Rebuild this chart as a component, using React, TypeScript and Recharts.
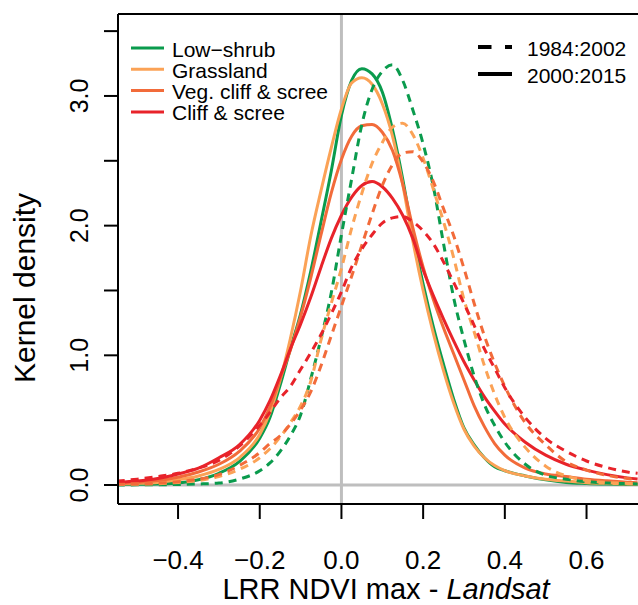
import React from "react";
import { LineChart, Line, XAxis, YAxis, ReferenceLine } from "recharts";

const xs = [-0.55, -0.5, -0.45, -0.4, -0.35, -0.3, -0.25, -0.2, -0.175, -0.15, -0.125, -0.1, -0.075, -0.05, -0.025, 0, 0.025, 0.05, 0.075, 0.1, 0.125, 0.15, 0.175, 0.2, 0.225, 0.25, 0.275, 0.3, 0.325, 0.35, 0.375, 0.4, 0.45, 0.5, 0.55, 0.6, 0.65, 0.7, 0.725];

// 2000:2015 (solid)
const lowShrubLate = [0.003, 0.005, 0.008, 0.015, 0.04, 0.09, 0.18, 0.36, 0.52, 0.77, 1.05, 1.32, 1.65, 2.03, 2.42, 2.85, 3.12, 3.21, 3.17, 3.03, 2.74, 2.36, 1.92, 1.55, 1.22, 0.93, 0.66, 0.44, 0.31, 0.21, 0.14, 0.11, 0.07, 0.04, 0.02, 0.012, 0.007, 0.004, 0.003];
const grassLate = [0.008, 0.012, 0.02, 0.04, 0.07, 0.12, 0.21, 0.39, 0.56, 0.81, 1.13, 1.5, 1.92, 2.27, 2.6, 2.9, 3.1, 3.14, 3.09, 2.94, 2.69, 2.32, 1.88, 1.5, 1.17, 0.88, 0.63, 0.43, 0.3, 0.21, 0.15, 0.11, 0.07, 0.045, 0.03, 0.018, 0.012, 0.008, 0.006];
const vegLate = [0.012, 0.02, 0.035, 0.06, 0.1, 0.16, 0.26, 0.44, 0.6, 0.82, 1.04, 1.3, 1.6, 1.93, 2.25, 2.51, 2.69, 2.77, 2.78, 2.72, 2.58, 2.32, 1.98, 1.68, 1.43, 1.21, 1.01, 0.81, 0.61, 0.45, 0.32, 0.23, 0.13, 0.085, 0.065, 0.045, 0.032, 0.022, 0.018];
const cliffLate = [0.02, 0.03, 0.05, 0.085, 0.13, 0.21, 0.31, 0.5, 0.65, 0.84, 1.05, 1.24, 1.45, 1.68, 1.9, 2.08, 2.22, 2.31, 2.34, 2.3, 2.21, 2.08, 1.9, 1.66, 1.46, 1.28, 1.11, 0.95, 0.81, 0.68, 0.57, 0.47, 0.33, 0.23, 0.16, 0.115, 0.08, 0.055, 0.047];

// 1984:2002 (dashed)
const lowShrubEarly = [0.0, 0.001, 0.002, 0.004, 0.008, 0.015, 0.045, 0.11, 0.17, 0.26, 0.38, 0.54, 0.82, 1.13, 1.48, 1.93, 2.36, 2.78, 3.05, 3.19, 3.24, 3.12, 2.89, 2.63, 2.3, 1.86, 1.44, 1.12, 0.84, 0.62, 0.46, 0.33, 0.16, 0.075, 0.045, 0.025, 0.015, 0.01, 0.008];
const grassEarly = [0.003, 0.006, 0.01, 0.02, 0.035, 0.065, 0.12, 0.21, 0.28, 0.37, 0.48, 0.61, 0.8, 1.12, 1.4, 1.67, 1.98, 2.25, 2.48, 2.64, 2.76, 2.79, 2.7, 2.52, 2.28, 2.03, 1.75, 1.43, 1.18, 0.92, 0.7, 0.52, 0.29, 0.145, 0.07, 0.035, 0.02, 0.012, 0.01];
const vegEarly = [0.005, 0.008, 0.014, 0.025, 0.045, 0.08, 0.15, 0.25, 0.32, 0.38, 0.47, 0.58, 0.72, 0.92, 1.15, 1.38, 1.61, 1.85, 2.09, 2.31, 2.47, 2.56, 2.57, 2.49, 2.34, 2.13, 1.92, 1.67, 1.4, 1.15, 0.94, 0.76, 0.48, 0.31, 0.18, 0.115, 0.075, 0.05, 0.04];
const cliffEarly = [0.03, 0.045, 0.065, 0.09, 0.13, 0.19, 0.3, 0.46, 0.56, 0.67, 0.76, 0.89, 1.02, 1.16, 1.32, 1.49, 1.68, 1.82, 1.93, 2.02, 2.06, 2.07, 2.03, 1.96, 1.86, 1.72, 1.56, 1.4, 1.23, 1.05, 0.9, 0.75, 0.52, 0.36, 0.26, 0.185, 0.135, 0.1, 0.09];

const xTicks = [-0.4, -0.2, 0, 0.2, 0.4, 0.6];
const yTicks = [0, 0.5, 1, 1.5, 2, 2.5, 3, 3.5];
const yLabelTicks = [0, 1, 2, 3];

const categories = ["Low\u2212shrub", "Grassland", "Veg. cliff & scree", "Cliff & scree"];
const colors = ["#0A9B4D", "#FBA256", "#F26B3A", "#E8232A"];
const periods = ["1984:2002", "2000:2015"];

const X_DOMAIN: [number, number] = [-0.547, 0.726];
const Y_DOMAIN: [number, number] = [-0.1465, 3.632];

const rows = xs.map((x, i) => ({
  x,
  ls15: lowShrubLate[i],
  gr15: grassLate[i],
  vg15: vegLate[i],
  cl15: cliffLate[i],
  ls02: lowShrubEarly[i],
  gr02: grassEarly[i],
  vg02: vegEarly[i],
  cl02: cliffEarly[i],
}));

const FONT = "'Liberation Sans', Arial, Helvetica, sans-serif";

const fmt = (v: number) => {
  const s = Math.abs(v).toFixed(1);
  return v < 0 ? "\u2212" + s : s;
};

const XTick = (props: any) => {
  const { x, payload } = props;
  return (
    <text x={x} y={569} textAnchor="middle" fontFamily={FONT} fontSize={26} fill="#000">
      {fmt(payload.value)}
    </text>
  );
};

const YTick = (props: any) => {
  const { x, y, payload } = props;
  if (!yLabelTicks.includes(payload.value)) return null;
  const bx = x - 14;
  return (
    <text
      x={bx}
      y={y}
      transform={`rotate(-90, ${bx}, ${y})`}
      textAnchor="middle"
      fontFamily={FONT}
      fontSize={25}
      fill="#000"
    >
      {fmt(payload.value)}
    </text>
  );
};

const lateKeys = ["ls15", "gr15", "vg15", "cl15"];
const earlyKeys = ["ls02", "gr02", "vg02", "cl02"];

export default function App() {
  return (
    <div style={{ position: "absolute", left: 0, top: 0, width: 638, height: 605, background: "#fff", overflow: "hidden" }}>
      <LineChart width={638} height={605} data={rows} margin={{ top: 14, right: 0, bottom: 0, left: 0 }}>
        <XAxis
          type="number"
          dataKey="x"
          domain={X_DOMAIN}
          allowDataOverflow
          ticks={xTicks}
          interval={0}
          height={101}
          tickSize={15}
          tickLine={{ stroke: "#000", strokeWidth: 2 }}
          axisLine={{ stroke: "#000", strokeWidth: 2 }}
          tick={<XTick />}
        />
        <YAxis
          type="number"
          domain={Y_DOMAIN}
          allowDataOverflow
          ticks={yTicks}
          interval={0}
          width={118}
          tickSize={14}
          tickLine={{ stroke: "#000", strokeWidth: 2 }}
          axisLine={{ stroke: "#000", strokeWidth: 2 }}
          tick={<YTick />}
        />
        <ReferenceLine x={0} stroke="#BEBEBE" strokeWidth={3} />
        <ReferenceLine y={0} stroke="#BEBEBE" strokeWidth={3} />
        <ReferenceLine y={Y_DOMAIN[1]} stroke="#000" strokeWidth={2} />
        {lateKeys.map((k, i) => (
          <Line
            key={k}
            dataKey={k}
            type="monotone"
            stroke={colors[i]}
            strokeWidth={3}
            dot={false}
            activeDot={false}
            isAnimationActive={false}
          />
        ))}
        {earlyKeys.map((k, i) => (
          <Line
            key={k}
            dataKey={k}
            type="monotone"
            stroke={colors[i]}
            strokeWidth={3}
            strokeDasharray="8 6"
            dot={false}
            activeDot={false}
            isAnimationActive={false}
          />
        ))}
      </LineChart>
      <svg width={638} height={605} style={{ position: "absolute", left: 0, top: 0, pointerEvents: "none" }}>
        {categories.map((c, i) => (
          <g key={c}>
            <line x1={131} x2={164} y1={48 + i * 21.3} y2={48 + i * 21.3} stroke={colors[i]} strokeWidth={3} />
            <text x={172} y={56.5 + i * 21.3} fontFamily={FONT} fontSize={21} fill="#000">
              {c}
            </text>
          </g>
        ))}
        {periods.map((p, i) => (
          <g key={p}>
            <line
              x1={478}
              x2={512}
              y1={47 + i * 27}
              y2={47 + i * 27}
              stroke="#000"
              strokeWidth={4}
              strokeDasharray={i === 0 ? "13.5 13.5" : undefined}
            />
            <text x={527} y={56 + i * 27} fontFamily={FONT} fontSize={21} fill="#000">
              {p}
            </text>
          </g>
        ))}
        <text
          x={35}
          y={288}
          transform="rotate(-90, 35, 288)"
          textAnchor="middle"
          fontFamily={FONT}
          fontSize={30}
          fill="#000"
        >
          Kernel density
        </text>
        <text x={386} y={599} textAnchor="middle" fontFamily={FONT} fontSize={29} fill="#000">
          LRR NDVI max - <tspan fontStyle="italic">Landsat</tspan>
        </text>
      </svg>
    </div>
  );
}
